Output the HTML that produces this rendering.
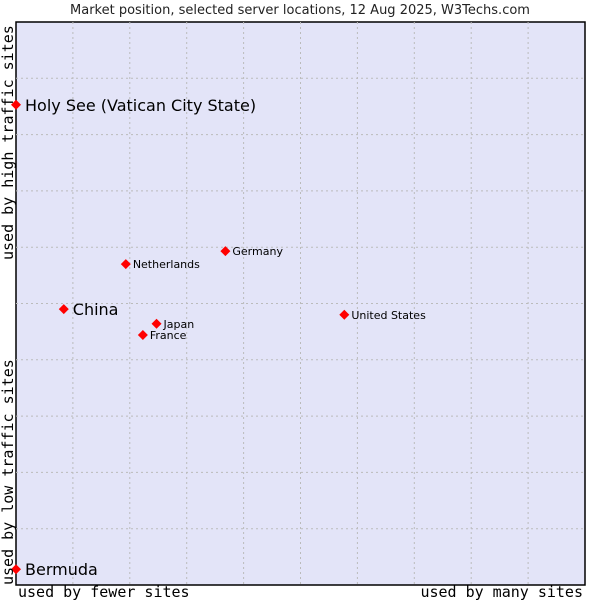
<!DOCTYPE html>
<html><head><meta charset="utf-8"><style>
body{margin:0;background:#fff;}
svg{display:block;font-family:"DejaVu Sans","Liberation Sans",sans-serif;}
</style></head><body>
<svg id="chart" width="600" height="600">
<text x="300" y="14" text-anchor="middle" font-size="13" fill="#222">Market position, selected server locations, 12 Aug 2025, W3Techs.com</text>
<rect x="16" y="22" width="569" height="563" fill="#e3e4f8" stroke="#000" stroke-width="1.5"/>
<g id="grid"></g>
<g id="points"></g>
<text transform="translate(13,585) rotate(-90)" font-family="'DejaVu Sans Mono','Liberation Mono',monospace" font-size="15" fill="#000">used by low traffic sites</text>
<text transform="translate(13,260) rotate(-90)" font-family="'DejaVu Sans Mono','Liberation Mono',monospace" font-size="15" fill="#000">used by high traffic sites</text>
<text x="18" y="597" font-family="'DejaVu Sans Mono','Liberation Mono',monospace" font-size="15" fill="#000">used by fewer sites</text>
<text x="583" y="597" text-anchor="end" font-family="'DejaVu Sans Mono','Liberation Mono',monospace" font-size="15" fill="#000">used by many sites</text>
</svg>
<script>
const names=["Holy See (Vatican City State)","China","Netherlands","Germany","Japan","France","United States","Bermuda"];
const xVals=[0,8.4,19.3,36.8,24.7,22.3,57.7,0];
const yVals=[85.3,49.0,57.0,59.3,46.4,44.4,48.0,2.8];
const bigLabel=[true,true,false,false,false,false,false,true];
const NS="http://www.w3.org/2000/svg";
const X0=16,X1=585,Y0=585,Y1=22;
function sx(v){return X0+(X1-X0)*v/100;}
function sy(v){return Y0-(Y0-Y1)*v/100;}
const grid=document.getElementById('grid');
for(let i=1;i<10;i++){
 const vx=document.createElementNS(NS,'line');
 vx.setAttribute('x1',sx(i*10));vx.setAttribute('x2',sx(i*10));vx.setAttribute('y1',Y1);vx.setAttribute('y2',Y0);
 vx.setAttribute('stroke','#bbb');vx.setAttribute('stroke-dasharray','2,3');
 
 
 grid.appendChild(vx);
 const hy=document.createElementNS(NS,'line');
 hy.setAttribute('y1',sy(i*10));hy.setAttribute('y2',sy(i*10));hy.setAttribute('x1',X0);hy.setAttribute('x2',X1);
 hy.setAttribute('stroke','#bbb');hy.setAttribute('stroke-dasharray','2,3');
 
 
 grid.appendChild(hy);
}
const pts=document.getElementById('points');
names.forEach((n,i)=>{
 const x=sx(xVals[i]),y=sy(yVals[i]);
 const g=document.createElementNS(NS,'g');
 
 
 const d=document.createElementNS(NS,'path');
 d.setAttribute('d',`M${x-5},${y}L${x},${y-5}L${x+5},${y}L${x},${y+5}Z`);
 d.setAttribute('fill','#f00');
 g.appendChild(d);
 const t=document.createElementNS(NS,'text');
 t.setAttribute('x',x+(bigLabel[i]?9:7));t.setAttribute('y',y+(bigLabel[i]?6:4));
 t.setAttribute('font-size',bigLabel[i]?16:11);t.setAttribute('fill','#000');
 t.textContent=n;
 g.appendChild(t);
 pts.appendChild(g);
});
</script>
</body></html>
